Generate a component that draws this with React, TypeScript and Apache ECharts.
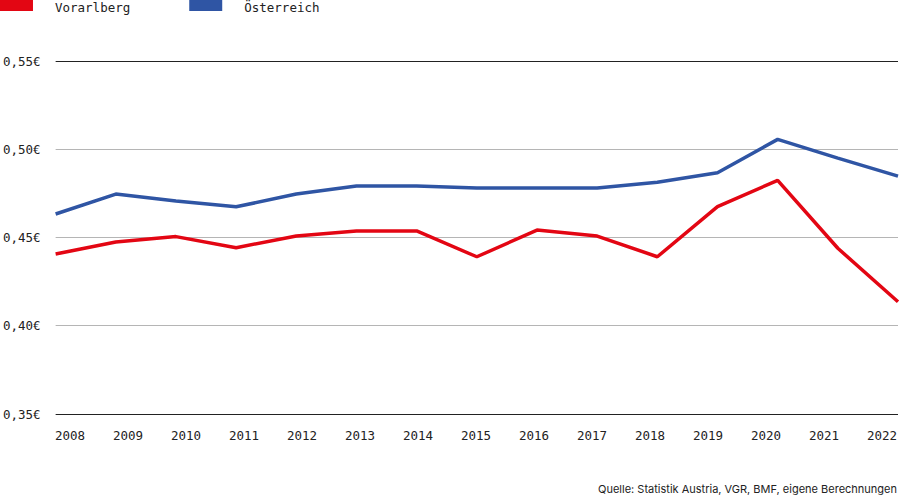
import React, { useEffect, useRef } from "react";
import * as echarts from "echarts";

const years = ["2008","2009","2010","2011","2012","2013","2014","2015","2016","2017","2018","2019","2020","2021","2022"];
const vorarlberg = [0.4407,0.4475,0.4505,0.4442,0.4509,0.4537,0.4537,0.4391,0.4542,0.4508,0.4391,0.4675,0.4824,0.4439,0.4136];
const oesterreich = [0.4633,0.4746,0.4707,0.4674,0.4746,0.4792,0.4792,0.478,0.478,0.478,0.4813,0.4867,0.5056,0.495,0.4848];
const yTicks = { min: 0.35, max: 0.55, interval: 0.05 };
const source = "Quelle: Statistik Austria, VGR, BMF, eigene Berechnungen";

const MONO = "'DejaVu Sans Mono', 'Liberation Mono', monospace";

export default function App() {
  const ref = useRef<HTMLDivElement>(null);
  useEffect(() => {
    if (!ref.current) return;
    const chart = echarts.init(ref.current, undefined, { renderer: "svg" });
    chart.setOption({
      animation: false,
      backgroundColor: "#fff",
      legend: {
        left: 0,
        top: 0,
        padding: 0,
        icon: "path://M0,0h33v11h-33zM0,15h0.01v0.01h-0.01z",
        itemWidth: 33,
        itemHeight: 15,
        itemGap: 59,
        textStyle: { fontFamily: MONO, fontSize: 12.5, color: "#222", width: 100, padding: [0, 0, 0, 17] },
        data: ["Vorarlberg", "Österreich"],
      },
      grid: [
        { left: 55, right: 2, top: 61, bottom: 82 },
        { left: 55, width: 815, top: 61, bottom: 82 },
      ],
      xAxis: [
        {
          gridIndex: 0,
          type: "category",
          data: years,
          boundaryGap: false,
          axisLine: { show: false },
          axisTick: { show: false },
          axisLabel: { show: false },
        },
        {
          gridIndex: 1,
          type: "category",
          data: years,
          boundaryGap: false,
          axisLine: { show: false },
          axisTick: { show: false },
          axisLabel: { align: "left", margin: 15, fontFamily: MONO, fontSize: 12.5, color: "#222", interval: 0 },
        },
      ],
      yAxis: [
        {
          gridIndex: 0,
          type: "value",
          min: yTicks.min,
          max: yTicks.max,
          interval: yTicks.interval,
          axisLine: { show: false },
          axisTick: { show: false },
          axisLabel: {
            margin: 15,
            fontFamily: MONO,
            fontSize: 12.5,
            color: "#222",
            formatter: (v: number) => v.toFixed(2).replace(".", ",") + "€",
          },
          splitLine: { lineStyle: { color: ["#222", "#b5b5b5", "#b5b5b5", "#b5b5b5", "#222"], width: 1 } },
        },
        { gridIndex: 1, type: "value", show: false, min: yTicks.min, max: yTicks.max },
      ],
      series: [
        {
          name: "Vorarlberg",
          type: "line",
          data: vorarlberg,
          xAxisIndex: 0,
          yAxisIndex: 0,
          showSymbol: false,
          symbol: "none",
          lineStyle: { color: "#e30613", width: 3.5 },
          itemStyle: { color: "#e30613" },
        },
        {
          name: "Österreich",
          type: "line",
          data: oesterreich,
          xAxisIndex: 0,
          yAxisIndex: 0,
          showSymbol: false,
          symbol: "none",
          lineStyle: { color: "#2f55a4", width: 3.5 },
          itemStyle: { color: "#2f55a4" },
        },
      ],
      graphic: [
        {
          type: "text",
          right: 3,
          top: 483,
          style: { text: source, fontFamily: "Inter, 'Noto Sans', sans-serif", fontSize: 11, fill: "#222" },
        },
      ],
    });
    return () => chart.dispose();
  }, []);
  return <div ref={ref} style={{ position: "fixed", left: 0, top: 0, width: 900, height: 496 }} />;
}
